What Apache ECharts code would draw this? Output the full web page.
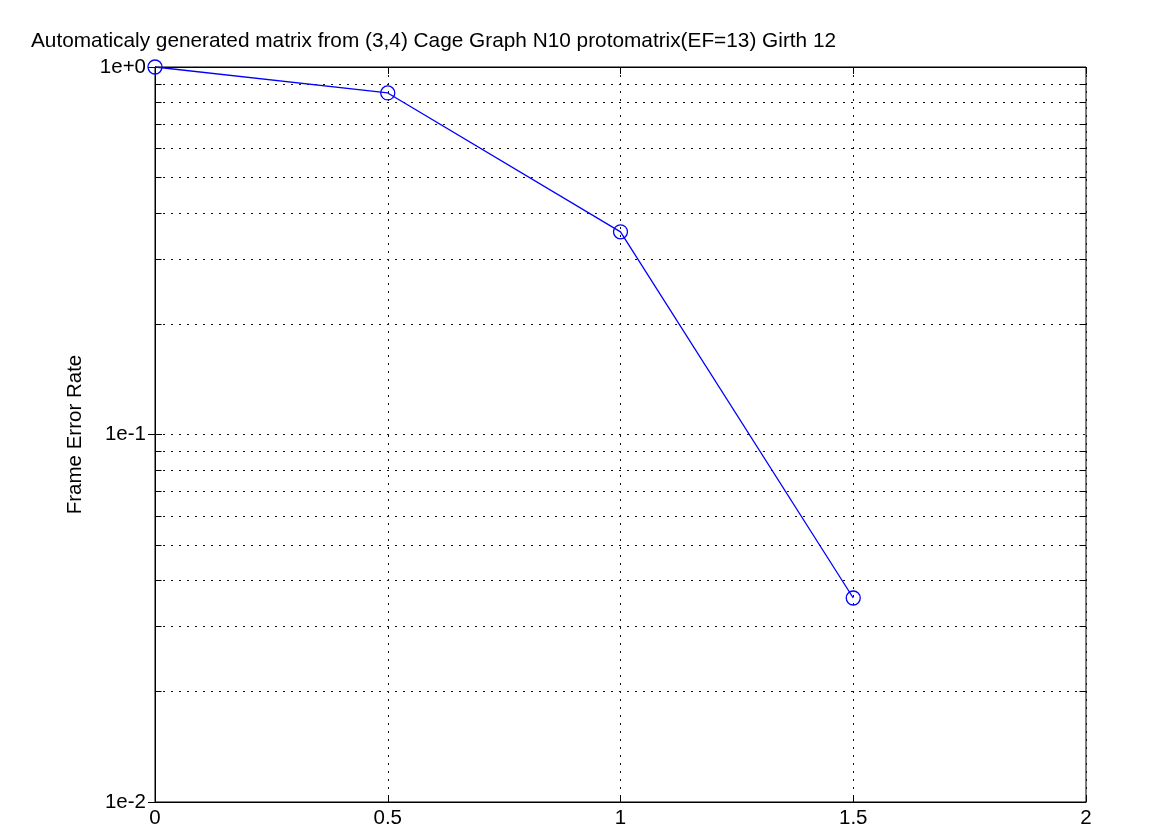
<!DOCTYPE html>
<html>
<head>
<meta charset="utf-8">
<script src="https://cdn.jsdelivr.net/npm/echarts@6/dist/echarts.min.js"></script>
<style>
html,body{margin:0;padding:0;background:#fff;}
#chart{width:1175px;height:835px;}
</style>
</head>
<body>
<div id="chart"></div>
<script>
const titleText = 'Automaticaly generated matrix from (3,4) Cage Graph N10 protomatrix(EF=13) Girth 12';
const yAxisName = 'Frame Error Rate';
const xValues = [0, 0.5, 1, 1.5];
const ferValues = [1.0, 0.85, 0.356, 0.0359];
const yTickLabels = {1: '1e+0', 0.1: '1e-1', 0.01: '1e-2'};
const yGridValues = [0.02,0.03,0.04,0.05,0.06,0.07,0.08,0.09,0.1,0.2,0.3,0.4,0.5,0.6,0.7,0.8,0.9];
const yMinorValues = [0.02,0.03,0.04,0.05,0.06,0.07,0.08,0.09,0.2,0.3,0.4,0.5,0.6,0.7,0.8,0.9];

const FONT = 'Liberation Sans, Arial, sans-serif';
const FS = 20.5;
const dotStyle = {color:'#111', width:1, type:[2,6]};
const xMin = 0, xMax = 2;
const tickLen = 0.014;

const gridLines = yGridValues.map(v => ({yAxis: v}));
const minorTicks = [];
yMinorValues.forEach(v => {
  minorTicks.push([{coord:[xMin, v]}, {coord:[xMin + tickLen, v]}]);
  minorTicks.push([{coord:[xMax - tickLen, v]}, {coord:[xMax, v]}]);
});

const chart = echarts.init(document.getElementById('chart'), null, {renderer:'canvas'});
chart.setOption({
  animation:false,
  backgroundColor:'#fff',
  textStyle:{fontFamily:FONT},
  title:{
    text:titleText, left:26, top:26,
    textStyle:{fontFamily:FONT, fontSize:20.8, fontWeight:'normal', color:'#000'}
  },
  grid:{left:155, right:89, top:67, bottom:33, containLabel:false,
        show:true, borderColor:'#000', borderWidth:1, backgroundColor:'transparent'},
  xAxis:[{
    type:'value', min:xMin, max:xMax, interval:0.5, position:'bottom',
    axisLine:{show:true, lineStyle:{color:'#000', width:1}},
    axisTick:{show:true, inside:true, length:7, lineStyle:{color:'#000'}},
    axisLabel:{color:'#000', fontSize:FS, fontFamily:FONT, margin:6,
      formatter: v => String(v)},
    splitLine:{show:true, lineStyle:dotStyle}
  },{
    type:'value', min:xMin, max:xMax, interval:0.5, position:'top',
    axisLine:{show:true, lineStyle:{color:'#000', width:1}},
    axisTick:{show:true, inside:true, length:7, lineStyle:{color:'#000'}},
    axisLabel:{show:false}, splitLine:{show:false}
  }],
  yAxis:[{
    type:'log', logBase:10, min:0.01, max:1, position:'left',
    name:yAxisName, nameLocation:'middle', nameGap:69, nameRotate:90,
    nameTextStyle:{color:'#000', fontSize:FS, fontFamily:FONT},
    axisLine:{show:true, lineStyle:{color:'#000', width:1}},
    axisTick:{show:true, inside:true, length:7, lineStyle:{color:'#000'}},
    axisLabel:{color:'#000', fontSize:FS, fontFamily:FONT, margin:9,
      formatter: v => yTickLabels[v] !== undefined ? yTickLabels[v] : (yTickLabels[Number(v.toPrecision(3))] || '')},
    splitLine:{show:false}
  },{
    type:'log', logBase:10, min:0.01, max:1, position:'right',
    axisLine:{show:true, lineStyle:{color:'#000', width:1}},
    axisTick:{show:true, inside:true, length:7, lineStyle:{color:'#000'}},
    axisLabel:{show:false}, splitLine:{show:false}
  }],
  series:[{
    type:'line', xAxisIndex:0, yAxisIndex:0,
    data: xValues.map((x,i) => [x, ferValues[i]]),
    symbol:'circle', symbolSize:14, showSymbol:true,
    itemStyle:{color:'transparent', borderColor:'#0000ff', borderWidth:1.3},
    lineStyle:{color:'#0000ff', width:1.3},
    z:5,
    markLine:{
      silent:true, symbol:'none', label:{show:false},
      lineStyle:dotStyle,
      emphasis:{disabled:true},
      data: gridLines
    }
  },{
    type:'line', xAxisIndex:0, yAxisIndex:0, data:[],
    markLine:{
      silent:true, symbol:'none', label:{show:false},
      lineStyle:{color:'#000', width:1, type:'solid'},
      emphasis:{disabled:true},
      data: minorTicks
    }
  }]
});
</script>
</body>
</html>
